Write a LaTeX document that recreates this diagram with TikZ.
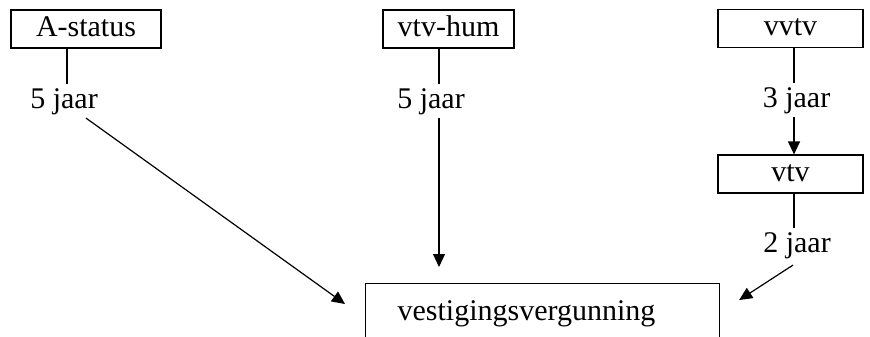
\documentclass[tikz,border=0pt]{standalone}
\usepackage{fontspec}
\setmainfont{Liberation Serif}
\newfontfamily\tnrfont{Liberation Serif}
\usetikzlibrary{arrows.meta,calc}
\begin{document}
\begin{tikzpicture}[x=1pt,y=-1pt,
 every node/.style={font=\tnrfont\fontsize{30}{36}\selectfont},
 box/.style={draw,line width=1.2pt,minimum height=38pt,inner sep=0pt,text height=21pt,text depth=6pt},
 lab/.style={inner sep=3.5pt,anchor=base},
 con/.style={line width=1.2pt},
 arr/.style={line width=1.2pt,-{Triangle[length=13pt,width=12pt]}}]
\useasboundingbox (0,0) rectangle (870,337);
\clip (0,0) rectangle (870,337);
\node[box,minimum width=150pt] (astatus) at (86,29) {A-status};
\node[box,minimum width=131pt] (vtvhum) at (448.5,29) {vtv-hum};
\node[box,minimum width=145pt] (vvtv) at (790.5,28.5) {vvtv};
\node[box,minimum width=145pt] (vtv) at (790.5,174) {vtv};
\node[draw,line width=1.2pt,anchor=north west,inner xsep=32pt,inner ysep=16pt,text width=290pt,align=left,text height=21pt,text depth=30pt] (vest) at (365,283) {vestigingsvergunning};
\node[lab] (lab1) at (64,108) {5 jaar};
\node[lab] (lab2) at (431,108) {5 jaar};
\node[lab] (lab3) at (796.5,107) {3 jaar};
\node[lab] (lab4) at (797,252) {2 jaar};
\draw[con] (astatus.south -| 67,0) -- (lab1.north -| 67,0);
\draw[arr] (lab1.south -| 86,0) -- ($(vest.north west)+(-20,21)$);
\draw[con] (vtvhum.south -| 439,0) -- (lab2.north -| 439,0);
\draw[arr] (lab2.south -| 439,0) -- ($(vest.north -| 439,0)+(0,-16)$);
\draw[con] (vvtv.south -| 794,0) -- (lab3.north -| 794,0);
\draw[arr] (lab3.south -| 794,0) -- (vtv.north -| 794,0);
\draw[con] (vtv.south -| 794,0) -- (lab4.north -| 794,0);
\draw[arr] ($(lab4.south -| 793,0)+(0,3)$) -- ($(vest.north east)+(19,17)$);
\end{tikzpicture}
\end{document}
